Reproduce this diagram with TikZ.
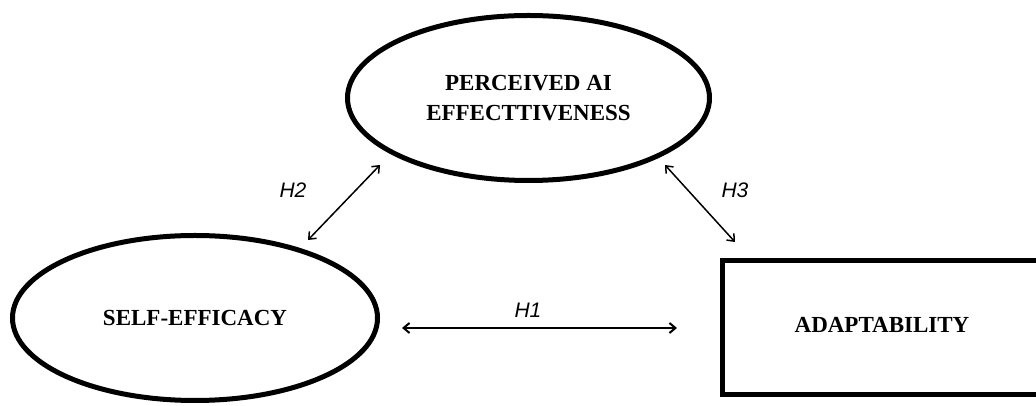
\documentclass[tikz,border=0pt]{standalone}
\usepackage{fontspec}
\setmainfont{Liberation Serif}
\setsansfont{Liberation Sans}
\usetikzlibrary{shapes.geometric,arrows.meta}
\tikzset{
  construct/.style={draw=black, line width=5pt, inner sep=0pt, font=\fontsize{23}{30}\selectfont\bfseries, align=center},
  ellipsebox/.style={construct, ellipse},
  rectbox/.style={construct, rectangle},
  relation/.style={{Straight Barb[length=6pt,width=10pt]}-{Straight Barb[length=6pt,width=10pt]}, line width=1.5pt},
  hyplabel/.style={font=\sffamily\itshape\fontsize{21}{24}\selectfont, inner sep=0pt}
}
\begin{document}
\begin{tikzpicture}[x=1pt,y=1pt]
\clip (0,0) rectangle (1036,406);
\fill[white] (0,0) rectangle (1036,406);
\node[ellipsebox, minimum width=362pt, minimum height=165pt] (pai) at (528.5,308) {PERCEIVED AI\\EFFECTTIVENESS};
\node[ellipsebox, minimum width=365pt, minimum height=165pt] (se) at (195,88) {SELF-EFFICACY};
\node[rectbox, minimum width=319pt, minimum height=134pt] (ad) at (882,78.5) {};
\node[font=\fontsize{23}{27}\selectfont\bfseries, inner sep=0pt] (adt) at (882,81) {ADAPTABILITY};
\coordinate (h2a) at (308,166);
\coordinate (h2b) at (380,241);
\coordinate (h3a) at (665,241);
\coordinate (h3b) at (735,164);
\coordinate (h1a) at (402,78);
\coordinate (h1b) at (677,78);
\draw[relation] (h2a) -- (h2b);
\draw[relation] (h3a) -- (h3b);
\draw[relation, line width=2pt] (h1a) -- (h1b);
\node[hyplabel] (l2) at (293,216) {H2};
\node[hyplabel] (l3) at (735,216) {H3};
\node[hyplabel] (l1) at (528,96) {H1};
\end{tikzpicture}
\end{document}
